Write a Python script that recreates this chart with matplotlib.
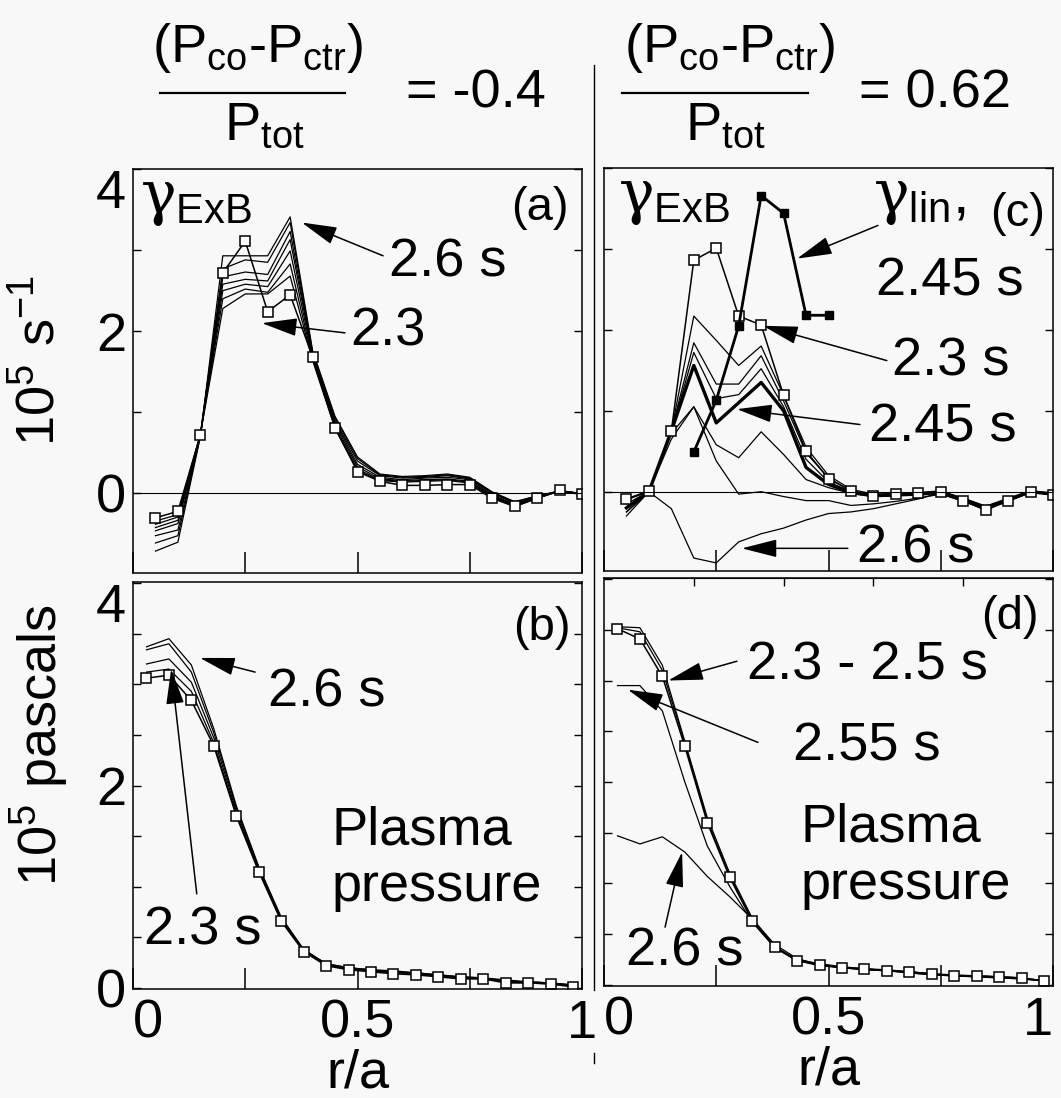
import numpy as np
import matplotlib
matplotlib.use('Agg')
import matplotlib.pyplot as plt
from matplotlib.lines import Line2D

plt.rcParams['font.family'] = ['Liberation Sans', 'DejaVu Sans']
plt.rcParams['mathtext.fontset'] = 'custom'
plt.rcParams['mathtext.rm'] = 'Liberation Sans'
plt.rcParams['mathtext.it'] = 'DejaVu Serif'
plt.rcParams['mathtext.bf'] = 'Liberation Sans:bold'

# radial grids
r_g = [0.05, 0.10, 0.15, 0.20, 0.25, 0.30, 0.35, 0.40, 0.45, 0.50,
       0.55, 0.60, 0.65, 0.70, 0.75, 0.80, 0.85, 0.90, 0.95, 1.00]
r_p = [0.03, 0.08, 0.13, 0.18, 0.23, 0.28, 0.33, 0.38, 0.43, 0.48,
       0.53, 0.58, 0.63, 0.68, 0.73, 0.78, 0.83, 0.88, 0.93, 0.98]
r_lin = [0.20, 0.25, 0.30, 0.35, 0.40, 0.45, 0.50]

# (a) gamma_ExB, counter-injection
a_230 = [-0.30, -0.22, 0.72, 2.72, 3.11, 2.24, 2.45, 1.68, 0.81, 0.27,
         0.15, 0.10, 0.10, 0.11, 0.11, -0.06, -0.16, -0.06, 0.04, -0.01]
a_lines = [
    [-0.34, -0.26, 0.73, 2.28, 2.46, 2.46, 2.68, 1.64, 0.80, 0.28, 0.16, 0.14, 0.15, 0.16, 0.13, -0.05, -0.16, -0.06, 0.03, 0.0],
    [-0.38, -0.29, 0.73, 2.40, 2.52, 2.48, 2.83, 1.66, 0.82, 0.30, 0.17, 0.15, 0.16, 0.17, 0.14, -0.04, -0.15, -0.06, 0.03, 0.0],
    [-0.42, -0.33, 0.72, 2.50, 2.58, 2.55, 2.99, 1.68, 0.85, 0.33, 0.18, 0.16, 0.17, 0.18, 0.15, -0.03, -0.14, -0.05, 0.03, 0.0],
    [-0.46, -0.37, 0.72, 2.58, 2.64, 2.62, 3.13, 1.70, 0.88, 0.36, 0.20, 0.17, 0.19, 0.20, 0.17, -0.02, -0.13, -0.05, 0.03, 0.0],
    [-0.52, -0.45, 0.71, 2.67, 2.73, 2.70, 3.23, 1.72, 0.90, 0.40, 0.22, 0.19, 0.20, 0.22, 0.18, 0.00, -0.12, -0.04, 0.03, 0.0],
    [-0.61, -0.52, 0.71, 2.77, 2.88, 2.85, 3.34, 1.74, 0.93, 0.43, 0.23, 0.20, 0.21, 0.23, 0.19, 0.01, -0.11, -0.03, 0.03, 0.0],
    [-0.71, -0.60, 0.70, 2.93, 2.93, 2.93, 3.41, 1.76, 0.95, 0.45, 0.24, 0.21, 0.22, 0.24, 0.20, 0.02, -0.10, -0.03, 0.03, 0.0],
]

# (b) pressure, counter-injection
b_230 = [3.06, 3.09, 2.84, 2.39, 1.70, 1.15, 0.66, 0.36, 0.22, 0.18,
         0.16, 0.14, 0.13, 0.11, 0.09, 0.09, 0.05, 0.05, 0.04, 0.01]
b_lines = [
    [3.12, 3.15, 2.93, 2.42, 1.72, 1.16, 0.67, 0.37, 0.23, 0.19, 0.17, 0.15, 0.14, 0.12, 0.10, 0.09, 0.06, 0.05, 0.04, 0.02],
    [3.20, 3.25, 3.02, 2.47, 1.75, 1.17, 0.68, 0.37, 0.23, 0.19, 0.17, 0.16, 0.14, 0.12, 0.10, 0.10, 0.07, 0.06, 0.05, 0.02],
    [3.34, 3.40, 3.12, 2.52, 1.78, 1.19, 0.69, 0.38, 0.24, 0.20, 0.18, 0.16, 0.15, 0.13, 0.11, 0.10, 0.07, 0.06, 0.05, 0.03],
    [3.37, 3.45, 3.19, 2.56, 1.80, 1.20, 0.70, 0.38, 0.24, 0.20, 0.18, 0.17, 0.15, 0.13, 0.11, 0.10, 0.08, 0.06, 0.05, 0.03],
]

# (c) gamma_ExB, co-injection
c_230 = [-0.09, 0.01, 0.75, 2.86, 3.01, 2.17, 2.06, 1.19, 0.50, 0.16,
         0.01, -0.05, -0.03, -0.02, 0.00, -0.11, -0.23, -0.11, 0.00, -0.04]
c_lines = [
    [-0.10, 0.0, 0.75, 2.17, 1.87, 1.56, 1.80, 1.19, 0.55, 0.20, 0.03, -0.03, -0.02, -0.01, 0.01, -0.08, -0.18, -0.08, 0.01, -0.02],
    [-0.15, 0.0, 0.75, 1.84, 1.33, 1.33, 1.68, 1.12, 0.48, 0.17, 0.01, -0.04, -0.03, -0.02, 0.00, -0.09, -0.19, -0.09, 0.00, -0.02],
    [-0.25, 0.0, 0.74, 1.72, 1.15, 1.20, 1.52, 1.05, 0.40, 0.12, 0.00, -0.05, -0.03, -0.02, 0.00, -0.09, -0.20, -0.09, 0.00, -0.02],
    [-0.25, 0.0, 0.72, 1.05, 0.58, 0.42, 0.74, 0.46, 0.15, 0.05, -0.02, -0.06, -0.05, -0.03, -0.01, -0.12, -0.22, -0.12, -0.01, -0.03],
    [-0.30, 0.0, 0.65, 1.05, 0.38, -0.03, 0.00, -0.06, -0.11, -0.11, -0.17, -0.15, -0.12, -0.08, -0.03, -0.12, -0.20, -0.12, 0.00, -0.03],
    [-0.20, 0.0, -0.21, -0.82, -0.88, -0.62, -0.52, -0.45, -0.35, -0.27, -0.25, -0.21, -0.15, -0.09, -0.01, -0.08, -0.18, -0.10, 0.00, -0.02],
]
c_245 = [-0.20, 0.0, 0.75, 1.56, 0.85, 1.10, 1.35, 1.00, 0.30, 0.09,
         -0.01, -0.05, -0.04, -0.03, -0.01, -0.10, -0.20, -0.10, 0.00, -0.03]
c_lin = [0.49, 1.13, 2.05, 3.66, 3.44, 2.18, 2.18]

# (d) pressure, co-injection
d_230 = [3.51, 3.41, 3.04, 2.35, 1.60, 1.06, 0.63, 0.37, 0.24, 0.20,
         0.17, 0.16, 0.14, 0.13, 0.11, 0.09, 0.09, 0.08, 0.07, 0.04]
d_lines = [
    [3.53, 3.52, 3.15, 2.40, 1.65, 1.10, 0.66, 0.38, 0.25, 0.21, 0.18, 0.16, 0.15, 0.13, 0.11, 0.10, 0.09, 0.08, 0.07, 0.04],
    [3.52, 3.48, 3.10, 2.38, 1.62, 1.08, 0.64, 0.37, 0.24, 0.20, 0.17, 0.16, 0.14, 0.13, 0.11, 0.09, 0.09, 0.08, 0.07, 0.04],
    [2.95, 2.95, 2.70, 2.00, 1.37, 0.97, 0.62, 0.37, 0.24, 0.19, 0.17, 0.15, 0.14, 0.12, 0.10, 0.09, 0.08, 0.07, 0.06, 0.04],
    [1.47, 1.39, 1.46, 1.31, 1.07, 0.87, 0.65, 0.40, 0.26, 0.20, 0.17, 0.15, 0.14, 0.12, 0.10, 0.09, 0.08, 0.07, 0.06, 0.04],
]

bg = '#f7f8f7'
fs = 39
W, H = 1061, 1098
fig = plt.figure(figsize=(W / 100, H / 100), dpi=100, facecolor=bg)

def box(l, t, r, b):
    return [l / W, 1 - b / H, (r - l) / W, (b - t) / H]

ax_a = fig.add_axes(box(133, 169, 582, 573))
ax_b = fig.add_axes(box(133, 582, 582, 989))
ax_c = fig.add_axes(box(604, 168, 1053, 571))
ax_d = fig.add_axes(box(604, 578, 1053, 986))

for ax in [ax_a, ax_b, ax_c, ax_d]:
    ax.set_facecolor(bg)
    for s in ax.spines.values():
        s.set_linewidth(1.1)
    ax.set_xlim(0, 1)
    ax.tick_params(axis='y', direction='in', left=True, right=True, length=6, width=1,
                   labelsize=fs, pad=5)
    ax.tick_params(axis='x', direction='in', bottom=True, top=False, length=15, width=1.1,
                   labelsize=fs, pad=7)
    ax.set_xticks([0, 0.25, 0.5, 0.75, 1])

mk = dict(marker='s', ms=7, mfc='white', mec='black', mew=1.1)
arr = dict(arrowstyle='-|>,head_length=1.1,head_width=0.28', mutation_scale=20,
           lw=1.1, color='black', shrinkA=0, shrinkB=0)

def arrow(ax, head, tail):
    ax.annotate('', xy=head, xytext=tail, arrowprops=arr)

# ---- (a)
for y in a_lines:
    ax_a.plot(r_g, y, color='black', lw=0.9)
ax_a.plot(r_g, a_230, color='black', lw=1.1, **mk)
ax_a.axhline(0, color='black', lw=0.8)
ax_a.set_ylim(-0.98, 3.94)
ax_a.set_yticks([0, 1, 2, 3, 4])
ax_a.set_yticklabels(['0', '', '2', '', '4'])
ax_a.set_xticklabels([])
ax_a.text(0.015, 3.95, r'$\gamma_{\mathrm{ExB}}$', fontsize=43, va='top', ha='left')
ax_a.text(0.906, 3.37, '(a)', fontsize=34, ha='center', va='baseline')
ax_a.text(0.70, 2.67, '2.6 s', fontsize=fs, ha='center', va='baseline')
arrow(ax_a, (0.376, 3.34), (0.557, 2.93))
ax_a.text(0.568, 1.82, '2.3', fontsize=fs, ha='center', va='baseline')
arrow(ax_a, (0.287, 2.10), (0.472, 1.98))

# ---- (b)
for y in b_lines:
    ax_b.plot(r_p, y, color='black', lw=0.9)
ax_b.plot(r_p, b_230, color='black', lw=1.1, **mk)
ax_b.set_ylim(-0.01, 4.01)
ax_b.set_yticks([0, 0.5, 1, 1.5, 2, 2.5, 3, 3.5, 4])
ax_b.set_yticklabels(['0', '', '', '', '2', '', '', '', '4'])
ax_b.set_xticklabels(['0', '', '0.5', '', '1'])
ax_b.text(0.911, 3.44, '(b)', fontsize=34, ha='center', va='baseline')
ax_b.text(0.432, 2.78, '2.6 s', fontsize=fs, ha='center', va='baseline')
arrow(ax_b, (0.149, 3.26), (0.272, 3.12))
ax_b.text(0.156, 0.43, '2.3 s', fontsize=fs, ha='center', va='baseline')
arrow(ax_b, (0.085, 3.15), (0.142, 0.93))
ax_b.text(0.443, 1.42, 'Plasma', fontsize=fs, ha='left', va='baseline')
ax_b.text(0.443, 0.86, 'pressure', fontsize=fs, ha='left', va='baseline')
ax_b.set_xlabel('r/a', fontsize=fs, labelpad=0)

# ---- (c)
for y in c_lines:
    ax_c.plot(r_g, y, color='black', lw=0.9)
ax_c.plot(r_g, c_245, color='black', lw=2.4)
ax_c.plot(r_g, c_230, color='black', lw=1.1, **mk)
ax_c.plot(r_lin, c_lin, color='black', lw=2.0, marker='s', ms=6, mfc='black', mec='black')
ax_c.axhline(0, color='black', lw=0.8)
ax_c.set_ylim(-0.98, 3.94)
ax_c.set_yticks([0, 1, 2, 3, 4])
ax_c.set_yticklabels([])
ax_c.set_xticklabels([])
ax_c.text(0.031, 3.95, r'$\gamma_{\mathrm{ExB}}$', fontsize=43, va='top', ha='left')
ax_c.text(0.60, 3.95, r'$\gamma_{\mathrm{lin}}$,', fontsize=43, va='top', ha='left')
ax_c.text(0.92, 3.28, '(c)', fontsize=34, ha='center', va='baseline')
ax_c.text(0.771, 2.43, '2.45 s', fontsize=fs, ha='center', va='baseline')
arrow(ax_c, (0.43, 2.88), (0.61, 3.29))
ax_c.text(0.773, 1.44, '2.3 s', fontsize=fs, ha='center', va='baseline')
arrow(ax_c, (0.354, 2.05), (0.63, 1.62))
ax_c.text(0.755, 0.62, '2.45 s', fontsize=fs, ha='center', va='baseline')
arrow(ax_c, (0.296, 1.02), (0.57, 0.83))
ax_c.text(0.695, -0.87, '2.6 s', fontsize=fs, ha='center', va='baseline')
arrow(ax_c, (0.307, -0.70), (0.543, -0.70))

# ---- (d)
for y in d_lines:
    ax_d.plot(r_p, y, color='black', lw=0.9)
ax_d.plot(r_p, d_230, color='black', lw=1.1, **mk)
ax_d.set_ylim(-0.01, 4.01)
ax_d.set_yticks([0, 0.5, 1, 1.5, 2, 2.5, 3, 3.5, 4])
ax_d.set_yticklabels([])
ax_d.set_xticklabels(['0', '', '0.5', '', '1'])
sec = ax_d.secondary_xaxis('top')
sec.set_xticks([0.2, 0.4, 0.6, 0.8], labels=[])
sec.tick_params(direction='in', length=6, width=1)
ax_d.text(0.904, 3.51, '(d)', fontsize=34, ha='center', va='baseline')
ax_d.text(0.586, 3.01, '2.3 - 2.5 s', fontsize=fs, ha='center', va='baseline')
arrow(ax_d, (0.143, 3.00), (0.296, 3.19))
ax_d.text(0.586, 2.21, '2.55 s', fontsize=fs, ha='center', va='baseline')
arrow(ax_d, (0.053, 2.91), (0.343, 2.39))
ax_d.text(0.437, 1.41, 'Plasma', fontsize=fs, ha='left', va='baseline')
ax_d.text(0.437, 0.85, 'pressure', fontsize=fs, ha='left', va='baseline')
ax_d.text(0.18, 0.19, '2.6 s', fontsize=fs, ha='center', va='baseline')
arrow(ax_d, (0.174, 1.31), (0.136, 0.57))
ax_d.set_xlabel('r/a', fontsize=fs, labelpad=0)

for ax in [ax_b, ax_d]:
    ax.get_xticklabels()[0].set_ha('left')
ax_d.get_xticklabels()[-1].set_ha('right')
for ax in [ax_a, ax_b]:
    ax.get_yticklabels()[-1].set_va('top')

# y labels
fig.text(40 / W, 1 - 360 / H, r'$\mathrm{10^5\ s^{-1}}$', rotation=90, ha='center',
         va='center', fontsize=fs)
fig.text(40 / W, 1 - 745 / H, r'$\mathrm{10^5}$ pascals', rotation=90, ha='center',
         va='center', fontsize=fs)

# headers
for xc, xbar, xden, xeq, eq in [(257, (160, 345), 264, 406, '= -0.4'),
                                 (729, (622, 808), 725, 859, '= 0.62')]:
    fig.text(xc / W, 1 - 62 / H, r'($\mathrm{P_{co}}$-$\mathrm{P_{ctr}}$)', fontsize=fs,
             ha='center', va='baseline')
    fig.add_artist(Line2D([xbar[0] / W, xbar[1] / W], [1 - 93 / H, 1 - 93 / H],
                          color='black', lw=1.6))
    fig.text(xden / W, 1 - 140 / H, r'$\mathrm{P_{tot}}$', fontsize=fs, ha='center',
             va='baseline')
    fig.text(xeq / W, 1 - 107 / H, eq, fontsize=fs, ha='left', va='baseline')

# divider
fig.add_artist(Line2D([594 / W, 594 / W], [1 - 65 / H, 1 - 990 / H], color='black', lw=1.0))
fig.add_artist(Line2D([594 / W, 594 / W], [1 - 1053 / H, 1 - 1063 / H], color='black', lw=1.0))

fig.savefig('out.png', dpi=100, facecolor=bg)
